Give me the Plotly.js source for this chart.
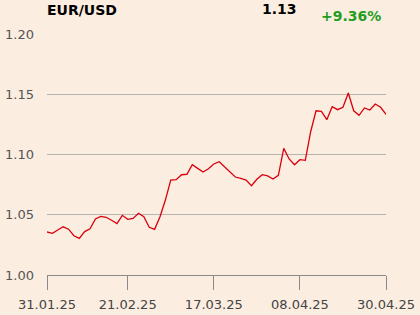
<!DOCTYPE html>
<html>
<head>
<meta charset="utf-8">
<script src="https://cdn.plot.ly/plotly-3.0.1.min.js"></script>
<style>
html,body{margin:0;padding:0;background:#fbede0;}
#chart{width:420px;height:315px;}
</style>
</head>
<body>
<div id="chart"></div>
<script>
const dates = [
  "31.01.25",
  "03.02.25","04.02.25","05.02.25","06.02.25","07.02.25",
  "10.02.25","11.02.25","12.02.25","13.02.25","14.02.25",
  "17.02.25","18.02.25","19.02.25","20.02.25","21.02.25",
  "24.02.25","25.02.25","26.02.25","27.02.25","28.02.25",
  "03.03.25","04.03.25","05.03.25","06.03.25","07.03.25",
  "10.03.25","11.03.25","12.03.25","13.03.25","14.03.25",
  "17.03.25","18.03.25","19.03.25","20.03.25","21.03.25",
  "24.03.25","25.03.25","26.03.25","27.03.25","28.03.25",
  "31.03.25","01.04.25","02.04.25","03.04.25","04.04.25",
  "07.04.25","08.04.25","09.04.25","10.04.25","11.04.25",
  "14.04.25","15.04.25","16.04.25","17.04.25","18.04.25",
  "21.04.25","22.04.25","23.04.25","24.04.25","25.04.25",
  "28.04.25","29.04.25","30.04.25"
];
const rates = [
  1.0357,1.0346,1.0373,1.040,1.038,1.0326,1.0304,1.036,1.0384,1.0465,
  1.0487,1.0479,1.0454,1.0426,1.0495,1.0462,1.047,1.0512,1.0484,1.0396,
  1.0379,1.0484,1.0622,1.0788,1.0791,1.0832,1.0836,1.0915,1.0885,1.0855,
  1.0882,1.0921,1.094,1.0899,1.0852,1.0813,1.0802,1.0788,1.0741,1.0794,
  1.0832,1.0822,1.0797,1.0827,1.1051,1.0963,1.0915,1.0957,1.0952,1.1189,
  1.1363,1.1358,1.1289,1.1397,1.1372,1.1392,1.151,1.1363,1.1325,1.1386,
  1.1369,1.1419,1.1392,1.1334
];
const xTicks = ["31.01.25","21.02.25","17.03.25","08.04.25","30.04.25"];
const yTicks = [1.00,1.05,1.10,1.15,1.20];
const titleText = "EUR/USD";
const lastText = "1.13";
const changeText = "+9.36%";

const font = "DejaVu Sans, sans-serif";
const trace = {
  x: dates, y: rates, type: "scatter", mode: "lines",
  line: {color: "#d9000d", width: 1.3}, hoverinfo: "skip"
};
const layout = {
  width: 420, height: 315,
  margin: {l: 47, r: 34, t: 34, b: 40, pad: 0},
  paper_bgcolor: "#fbede0", plot_bgcolor: "#fbede0",
  showlegend: false,
  font: {family: font, size: 13, color: "#555"},
  xaxis: {
    type: "category", range: [0, dates.length - 1],
    tickmode: "array", tickvals: xTicks, ticktext: xTicks,
    showgrid: false, zeroline: false,
    showline: true, linecolor: "#8a8a8a", linewidth: 1,
    ticks: "outside", ticklen: 14, tickcolor: "#8a8a8a", tickwidth: 1,
    ticklabelstandoff: 3,
    tickfont: {family: font, size: 13, color: "#444"}
  },
  yaxis: {
    range: [1.0, 1.2], tickmode: "array", tickvals: yTicks,
    ticktext: yTicks.map(v => v.toFixed(2)),
    showgrid: true, gridcolor: "#b8b4ae", gridwidth: 1,
    zeroline: false, showline: false, ticks: "", ticklen: 0,
    ticklabelstandoff: 12,
    tickfont: {family: font, size: 13, color: "#555"}
  },
  annotations: [
    {text: "<b>" + titleText + "</b>", xref: "paper", yref: "paper",
     x: 0, y: (275 - 10) / 241, xanchor: "left", yanchor: "middle", xshift: -2,
     showarrow: false, font: {family: font, size: 14, color: "#000"}},
    {text: "<b>" + lastText + "</b>", xref: "paper", yref: "paper",
     x: (299 - 47) / 339, y: (275 - 9) / 241, xanchor: "right", yanchor: "middle",
     showarrow: false, font: {family: font, size: 14, color: "#000"}},
    {text: "<b>" + changeText + "</b>", xref: "paper", yref: "paper",
     x: (383 - 47) / 339, y: (275 - 16) / 241, xanchor: "right", yanchor: "middle",
     showarrow: false, font: {family: font, size: 14, color: "#1f9e1f"}}
  ]
};
Plotly.newPlot("chart", [trace], layout, {staticPlot: true, displayModeBar: false});
</script>
</body>
</html>
